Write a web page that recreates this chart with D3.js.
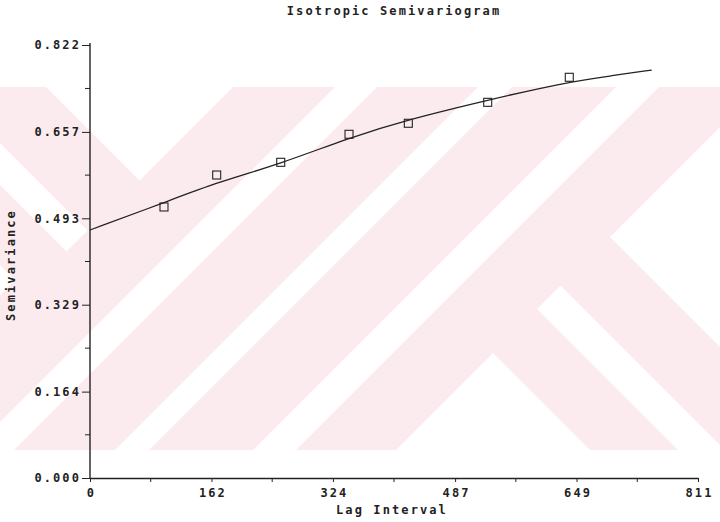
<!DOCTYPE html>
<html>
<head>
<meta charset="utf-8">
<title>Isotropic Semivariogram</title>
<style>
  html, body { margin: 0; padding: 0; background: #fff; }
  svg text {
    font-family: "DejaVu Sans Mono", "Liberation Mono", monospace;
    font-weight: bold;
    font-size: 12px;
    letter-spacing: 2.1px;
    fill: #222;
  }
</style>
</head>
<body>
<svg id="chart" width="720" height="522"></svg>
<script src="https://d3js.org/d3.v7.min.js"></script>
<script>
// tick labels as printed on the chart
const xTickLabels = ["0", "162", "324", "487", "649", "811"];
const yTickLabels = ["0.000", "0.164", "0.329", "0.493", "0.657", "0.822"];

// experimental semivariogram (squares)
const lagValues = [98.7, 169.0, 254.4, 345.5, 424.6, 530.5, 639.3];
const semivarValues = [0.5145, 0.5752, 0.5993, 0.6525, 0.6734, 0.7132, 0.7607];

// fitted model curve
const modelLag = [0, 98.7, 169.0, 254.4, 345.5, 424.2, 530.5, 635.9, 698.0, 749.3];
const modelValues = [0.4708, 0.5226, 0.5610, 0.5965, 0.6460, 0.6805, 0.7176, 0.7515, 0.7640, 0.7745];

const svg = d3.select("#chart");
const width = 720, height = 522;
const margin = { top: 45, right: 22, bottom: 44, left: 90 };

const x = d3.scaleLinear()
  .domain(d3.extent(xTickLabels, Number))
  .range([margin.left, width - margin.right]);
const y = d3.scaleLinear()
  .domain(d3.extent(yTickLabels, Number))
  .range([height - margin.bottom, margin.top]);

// background watermark (pink band with white 45 degree cut-outs)
const band = { top: 87, bottom: 450 };
svg.append("clipPath").attr("id", "bandClip")
  .append("rect").attr("x", 0).attr("y", band.top).attr("width", width).attr("height", band.bottom - band.top);
const wm = svg.append("g").attr("clip-path", "url(#bandClip)");
wm.append("rect").attr("x", 0).attr("y", band.top).attr("width", width)
  .attr("height", band.bottom - band.top).attr("fill", "#fcebee");
// shapes in u = x + y, v = x - y
const uv = (u, v) => [(u + v) / 2, (u - v) / 2];
const onY = (yy, u) => [u - yy, yy];
const shapes = [
  [[46, 87], [233, 87], uv(320, -41)],
  [[0, 143], uv(318, -143), uv(318, -185), [0, 185]],
  [[0, 265], [15, 280], [0, 295]],
  [onY(80, 422), onY(80, 464), onY(460, 464), onY(460, 422)],
  [onY(80, 565), onY(80, 599), onY(460, 599), onY(460, 565)],
  [onY(80, 703), onY(80, 746), onY(460, 746), onY(460, 703)],
  [uv(846, 140), onY(460, 846), [uv(846, 140)[0] + 107, 460]],
  [uv(846, 275), uv(846, 228), [228 + 460, 460], [275 + 460, 460]],
  [uv(847, 373), [760, 87], [760, 387]]
];
wm.selectAll("polygon").data(shapes).join("polygon")
  .attr("points", d => d.map(p => p.join(",")).join(" "))
  .attr("fill", "#fff");

// axes
const yTickVals = yTickLabels.map(Number);
const xTickVals = xTickLabels.map(Number);
const mid = vals => d3.pairs(vals).map(([a, b]) => (a + b) / 2);

const yAxis = svg.append("g")
  .attr("transform", `translate(${margin.left},0)`)
  .call(d3.axisLeft(y).tickValues(yTickVals)
    .tickFormat((d, i) => yTickLabels[i])
    .tickSize(8).tickSizeOuter(0).tickPadding(1));
yAxis.selectAll(".tick line").attr("stroke", "#222");
yAxis.select(".domain").attr("stroke", "#222").attr("stroke-width", 1.4)
  .attr("d", `M0,${y.range()[0]}V${y.range()[1] - 2}`);
yAxis.selectAll(".minor").data(mid(yTickVals)).join("line")
  .attr("class", "minor").attr("x1", -5).attr("x2", 0)
  .attr("y1", d => y(d)).attr("y2", d => y(d)).attr("stroke", "#222");

const xAxis = svg.append("g")
  .attr("transform", `translate(0,${height - margin.bottom})`)
  .call(d3.axisBottom(x).tickValues(xTickVals)
    .tickFormat((d, i) => xTickLabels[i])
    .tickSize(4).tickSizeOuter(0).tickPadding(6));
xAxis.selectAll(".tick line").attr("stroke", "#222");
xAxis.selectAll(".tick text").attr("dx", 1);
xAxis.select(".domain").attr("stroke", "#222").attr("stroke-width", 1.4);
xAxis.selectAll(".minor").data(mid(xTickVals)).join("line")
  .attr("class", "minor").attr("y1", 0).attr("y2", 4)
  .attr("x1", d => x(d)).attr("x2", d => x(d)).attr("stroke", "#222");

// model curve
const curve = d3.line()
  .x(d => x(d[0])).y(d => y(d[1]))
  .curve(d3.curveBasis);
svg.append("path")
  .datum(d3.zip(modelLag, modelValues))
  .attr("d", curve)
  .attr("fill", "none").attr("stroke", "#222").attr("stroke-width", 1.3);

// experimental points
svg.selectAll(".pt").data(d3.zip(lagValues, semivarValues)).join("rect")
  .attr("class", "pt")
  .attr("x", d => x(d[0]) - 4).attr("y", d => y(d[1]) - 4)
  .attr("width", 8).attr("height", 8)
  .attr("fill", "none").attr("stroke", "#222").attr("stroke-width", 1.1);

// titles
svg.append("text").attr("x", 394).attr("y", 15).attr("text-anchor", "middle")
  .text("Isotropic Semivariogram");
svg.append("text").attr("x", 392).attr("y", 514).attr("text-anchor", "middle")
  .text("Lag Interval");
svg.append("text").attr("transform", "translate(15,265) rotate(-90)")
  .attr("text-anchor", "middle").text("Semivariance");
</script>
</body>
</html>
